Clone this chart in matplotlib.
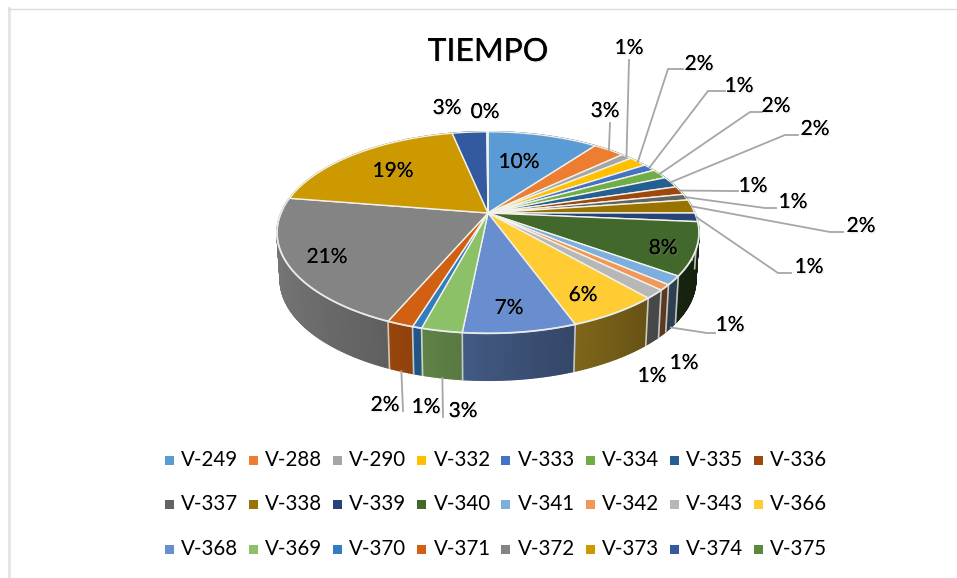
import numpy as np
import matplotlib
matplotlib.use('Agg')
import matplotlib.pyplot as plt
import matplotlib.patheffects as pe
from matplotlib.colors import to_rgb
from matplotlib.patches import Polygon, Rectangle

plt.rcParams['font.family'] = ['Lato', 'DejaVu Sans']

# --- data ---
names = ['V-249', 'V-288', 'V-290', 'V-332', 'V-333', 'V-334', 'V-335', 'V-336',
         'V-337', 'V-338', 'V-339', 'V-340', 'V-341', 'V-342', 'V-343', 'V-366',
         'V-368', 'V-369', 'V-370', 'V-371', 'V-372', 'V-373', 'V-374', 'V-375']
values = [10.2, 2.9, 1.0, 1.7, 1.2, 1.6, 1.8, 1.4,
          1.0, 2.2, 1.4, 8.4, 1.4, 0.9, 1.4, 5.9,
          7.2, 2.6, 0.6, 1.7, 21.0, 19.2, 3.2, 0.1]
colors = ['#5B9BD5', '#ED7D31', '#A5A5A5', '#FFC000', '#4472C4', '#70AD47', '#255E91', '#9E480E',
          '#636363', '#997300', '#264478', '#43682B', '#7CAFDD', '#F1975A', '#B7B7B7', '#FFCD33',
          '#698ED0', '#8CC168', '#327DC2', '#D26012', '#848484', '#CC9A00', '#335AA1', '#5A8A39']

# label centre in pixels, and the elbow of the leader line (None = no leader)
label_pos = [(519, 162), (605, 111), (629, 48), (699, 64), (739, 86), (776, 106), (815, 129), (753, 186),
             (793, 202), (861, 226), (809, 267), (663, 248), (730, 325), (684, 363), (652, 376), (583, 295),
             (509, 308), (463, 411), (426, 407), (385, 405), (327, 257), (393, 171), (447, 108), (485, 112)]
leaders = {1: [(610, 123)],
           2: [(629, 60)],
           3: [(668, 69), (683, 69)],
           4: [(708, 91), (725, 91)],
           5: [(750, 112), (762, 112)],
           6: [(785, 135), (798, 135)],
           7: [(733, 191), (738, 191)],
           8: [(765, 208), (776, 208)],
           9: [(830, 232), (843, 232)],
           10: [(778, 273), (791, 273)],
           12: [(707, 333), (715, 333)],
           17: [(443, 417)],
           19: [(403, 411)]}
front_leader = {12, 17, 19}

# --- perspective disc ---
cx, cy = 488, 213
A, B, k = 207, 97, 0.194
depth = 47


def project(theta, r=1.0, low=False):
    u = r * np.sin(theta)
    v = r * np.cos(theta)
    w = 1 + k * v
    x = A * u / w
    y = -B * v / w
    if low:
        return cx + x * 0.985, cy + y + depth
    return cx + x, cy + y


fig = plt.figure(figsize=(9.57, 5.78), dpi=100, facecolor='white')
ax = fig.add_axes([0, 0, 1, 1])
ax.set_xlim(0, 957)
ax.set_ylim(578, 0)
ax.axis('off')

# frame left over from the screenshot
ax.plot([8.5, 8.5], [578, 8], color='#e4e4e4', lw=2)
ax.plot([8, 957], [8.5, 8.5], color='#dcdcdc', lw=1)

edges = np.cumsum([0] + values) / sum(values) * 2 * np.pi

# --- side wall, far strips first ---
strips = []
for i in range(len(values)):
    n = max(2, int((edges[i + 1] - edges[i]) / 0.01))
    t = np.linspace(edges[i], edges[i + 1], n + 1)
    for a, b in zip(t[:-1], t[1:]):
        strips.append((np.cos((a + b) / 2), a, b, i))
strips.sort(key=lambda s: -s[0])
for _, a, b, i in strips:
    shade = np.clip(0.6 - 0.3 * np.sin((a + b) / 2), 0.3, 1)
    c = tuple(ch * shade for ch in to_rgb(colors[i]))
    xa, ya = project(a)
    xb, yb = project(b)
    xc, yc = project(b, low=True)
    xd, yd = project(a, low=True)
    ax.add_patch(Polygon([(xa, ya), (xb, yb), (xc, yc), (xd, yd)], closed=True,
                         fc=c, ec=c, lw=1.0, zorder=2))

# pale seams between slices on the front of the wall
for e in edges:
    if np.cos(e) < -0.02 or abs(np.sin(e)) > 0.98:
        x0, y0 = project(e)
        x1, y1 = project(e, low=True)
        ax.plot([x0, x1], [y0, y1], color='#e8e8e0', lw=1.2, alpha=0.8, zorder=3)

# --- top face ---
for i in range(len(values)):
    t = np.linspace(edges[i], edges[i + 1], 60)
    xs, ys = project(t)
    ax.add_patch(Polygon(np.r_[[[cx, cy]], np.c_[xs, ys]], closed=True,
                         fc=colors[i], ec='#f2f2ea', lw=1.0, zorder=4))

# pale rim along the front
t = np.linspace(np.pi / 2 - 0.05, 3 * np.pi / 2 + 0.05, 200)
xs, ys = project(t)
ax.plot(xs, ys, color='#e6ecf0', lw=1.3, alpha=0.85, zorder=5)

# --- leaders ---
for i, pts in leaders.items():
    mid = (edges[i] + edges[i + 1]) / 2
    start = project(mid, low=i in front_leader)
    path = [start] + pts
    ax.plot([p[0] for p in path], [p[1] for p in path], color='#a6a6a6', lw=1.3,
            solid_joinstyle='miter', zorder=6)

# --- labels ---
shadow = [pe.withSimplePatchShadow(offset=(1, -1), shadow_rgbFace='#999999', alpha=0.2), pe.Normal()]
for v, (x, y) in zip(values, label_pos):
    ax.text(x, y, f'{v:.0f}%', fontsize=15, color='black', ha='center', va='center',
            path_effects=shadow, zorder=7)
ax.text(488, 52, 'TIEMPO', fontsize=23, color='black', ha='center', va='center',
        path_effects=shadow, zorder=7)

# --- legend ---
leg_x0, leg_dx = 169, 84.2
leg_y0, leg_dy = 460, 44.5
for i, (name, c) in enumerate(zip(names, colors)):
    row, col = divmod(i, 8)
    x = leg_x0 + col * leg_dx
    y = leg_y0 + row * leg_dy
    ax.add_patch(Rectangle((x - 4.5, y - 4.5), 9, 9, fc=c, ec='none'))
    ax.text(x + 12, y, name, fontsize=14.8, color='black', ha='left', va='center')

fig.savefig('out.png', dpi=100)
